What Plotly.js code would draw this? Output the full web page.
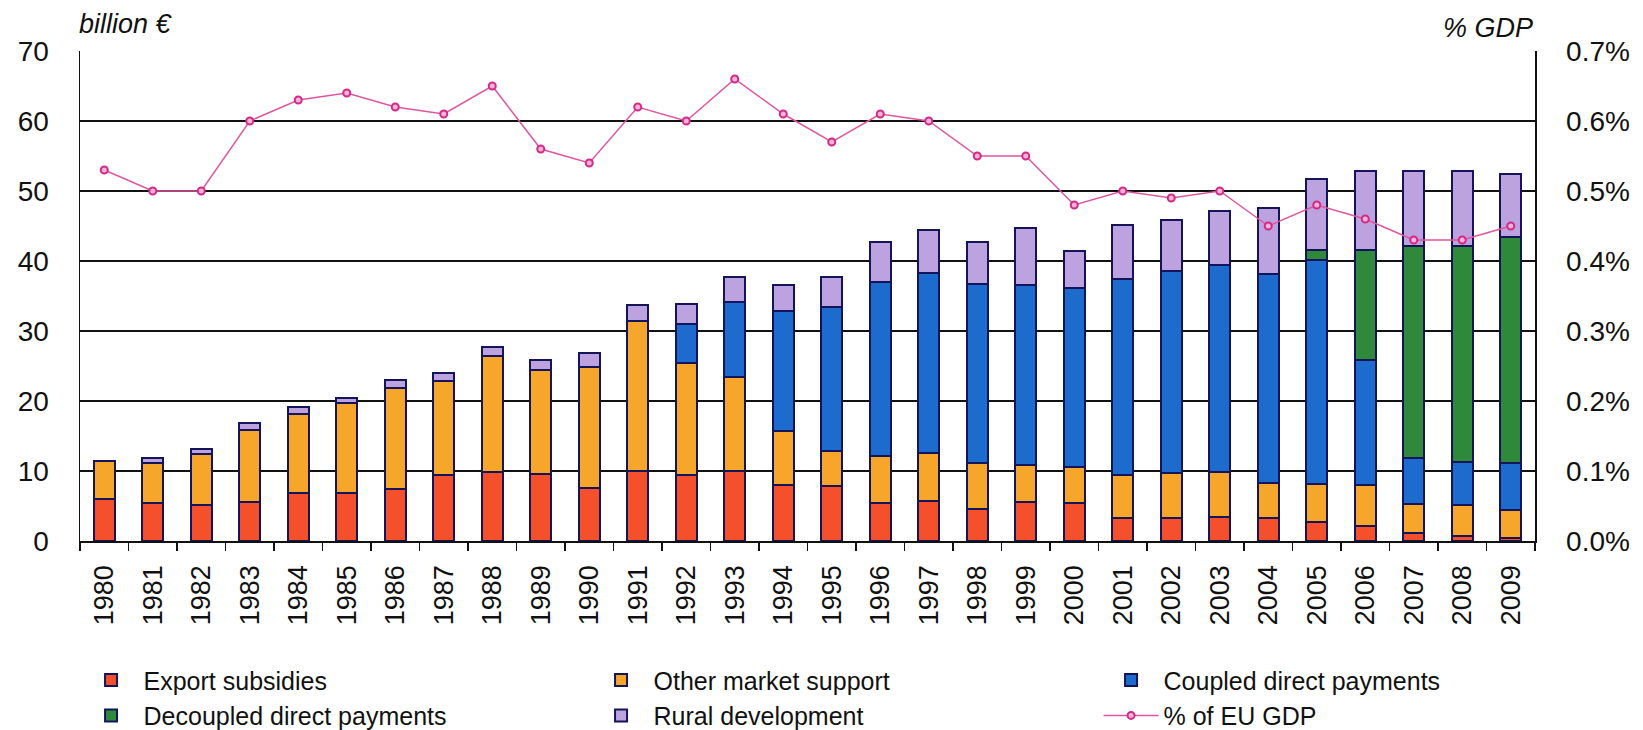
<!DOCTYPE html>
<html>
<head>
<meta charset="utf-8">
<script src="https://cdn.plot.ly/plotly-3.0.1.min.js"></script>
<style>
  html, body { margin: 0; padding: 0; background: #ffffff; }
  #chart { width: 1643px; height: 730px; }
</style>
</head>
<body>
<div id="chart"></div>
<script>
const years = ['1980','1981','1982','1983','1984','1985','1986','1987','1988','1989',
               '1990','1991','1992','1993','1994','1995','1996','1997','1998','1999',
               '2000','2001','2002','2003','2004','2005','2006','2007','2008','2009'];

const exportSubsidies = [6.0,5.4,5.1,5.6,6.8,6.8,7.5,9.5,9.9,9.6,
                         7.6,10.0,9.4,10.0,8.0,7.8,5.5,5.7,4.6,5.6,
                         5.5,3.3,3.3,3.5,3.3,2.7,2.2,1.2,0.7,0.4];
const otherMarketSupport = [5.4,5.8,7.3,10.2,11.3,12.9,14.4,13.4,16.5,14.9,
                            17.3,21.5,16.0,13.5,7.7,5.0,6.6,6.9,6.5,5.2,
                            5.1,6.2,6.4,6.4,5.0,5.5,5.8,4.1,4.4,4.0];
const coupledDirect = [0,0,0,0,0,0,0,0,0,0,
                       0,0,5.6,10.6,17.1,20.7,24.9,25.7,25.6,25.8,
                       25.6,27.9,28.9,29.6,29.8,31.9,17.9,6.5,6.2,6.7];
const decoupledDirect = [0,0,0,0,0,0,0,0,0,0,
                         0,0,0,0,0,0,0,0,0,0,
                         0,0,0,0,0,1.5,15.7,30.4,30.9,32.3];
const ruralDevelopment = [0,0.7,0.8,1.0,1.0,0.7,1.1,1.1,1.3,1.3,
                          2.0,2.2,2.9,3.6,3.8,4.2,5.7,6.2,6.0,8.1,
                          5.3,7.8,7.3,7.6,9.5,10.1,11.3,10.7,10.6,9.0];
const pctGDP = [0.53,0.50,0.50,0.60,0.63,0.64,0.62,0.61,0.65,0.56,
                0.54,0.62,0.60,0.66,0.61,0.57,0.61,0.60,0.55,0.55,
                0.48,0.50,0.49,0.50,0.45,0.48,0.46,0.43,0.43,0.45];

const leftTicks = [0,10,20,30,40,50,60,70];
const rightTicks = [0,0.1,0.2,0.3,0.4,0.5,0.6,0.7];
const rightTickText = ['0.0%','0.1%','0.2%','0.3%','0.4%','0.5%','0.6%','0.7%'];

const outline = { color: '#14145a', width: 2 };
function barTrace(name, values, color) {
  return { type: 'bar', name: name, x: years, y: values,
           marker: { color: color, line: outline }, hoverinfo: 'name+y' };
}

const traces = [
  barTrace('Export subsidies', exportSubsidies, '#f4502c'),
  barTrace('Other market support', otherMarketSupport, '#f6a62a'),
  barTrace('Coupled direct payments', coupledDirect, '#1d6ccd'),
  barTrace('Decoupled direct payments', decoupledDirect, '#2e8a3a'),
  barTrace('Rural development', ruralDevelopment, '#bca3df'),
  { type: 'scatter', mode: 'lines+markers', name: '% of EU GDP', x: years, y: pctGDP,
    yaxis: 'y2',
    line: { color: '#e0559f', width: 1.5 },
    marker: { symbol: 'circle', size: 7, color: '#f6b3d6', line: { color: '#d12a88', width: 2 } } }
];

const font = { family: '"Liberation Sans", Arial, sans-serif', color: '#111111', size: 27 };

const layout = {
  width: 1643, height: 730,
  margin: { l: 80, r: 108, t: 51, b: 189, autoexpand: false },
  paper_bgcolor: '#ffffff', plot_bgcolor: '#ffffff',
  font: font,
  barmode: 'stack',
  bargap: 0.56,
  showlegend: true,
  legend: {
    orientation: 'h', traceorder: 'normal',
    xref: 'paper', yref: 'paper',
    x: -0.001, xanchor: 'left', y: -0.237, yanchor: 'top',
    entrywidth: 440, entrywidthmode: 'pixels',
    itemwidth: 55, tracegroupgap: 0,
    font: { family: font.family, size: 25, color: '#111111' },
    bgcolor: 'rgba(0,0,0,0)'
  },
  xaxis: {
    type: 'category', tickangle: -90, range: [-0.5, 29.5], autorange: false,
    tickson: 'boundaries', ticks: 'outside', ticklen: 8, tickwidth: 1.5, tickcolor: '#111',
    showline: true, linecolor: '#111', linewidth: 1.5,
    showgrid: false, ticklabelstandoff: 12,
    tickfont: { family: font.family, size: 27, color: '#111' }
  },
  yaxis: {
    range: [0, 70], tickvals: leftTicks, ticks: '',
    showgrid: true, gridcolor: '#111', gridwidth: 1.5,
    showline: true, linecolor: '#111', linewidth: 1.5, mirror: false,
    zeroline: false, ticklabelstandoff: 24,
    tickfont: { family: font.family, size: 28, color: '#111' }
  },
  yaxis2: {
    overlaying: 'y', side: 'right', range: [0, 0.7],
    tickvals: rightTicks, ticktext: rightTickText, ticks: '',
    showgrid: false, showline: true, linecolor: '#111', linewidth: 1.5,
    zeroline: false, ticklabelstandoff: 24,
    tickfont: { family: font.family, size: 28, color: '#111' }
  },
  annotations: [
    { text: '<i>billion €</i>', xref: 'paper', yref: 'paper', x: -0.002, y: 1.055,
      xanchor: 'left', yanchor: 'middle', showarrow: false,
      font: { family: font.family, size: 27, color: '#111' } },
    { text: '<i>% GDP</i>', xref: 'paper', yref: 'paper', x: 1.0, y: 1.047,
      xanchor: 'right', yanchor: 'middle', showarrow: false,
      font: { family: font.family, size: 27, color: '#111' } }
  ]
};

Plotly.newPlot('chart', traces, layout, { displayModeBar: false, staticPlot: true });
</script>
</body>
</html>
